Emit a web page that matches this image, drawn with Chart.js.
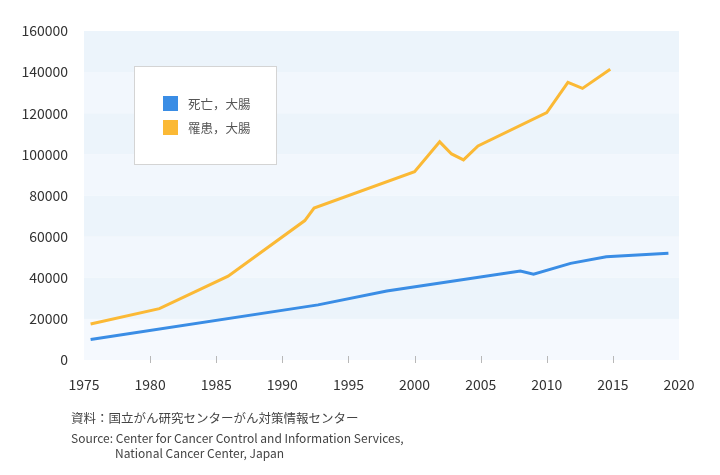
<!DOCTYPE html>
<html>
<head>
<meta charset="utf-8">
<script src="https://cdn.jsdelivr.net/npm/chart.js@4/dist/chart.umd.min.js"></script>
<style>
  body { margin: 0; background: #fff; }
  #wrap { position: relative; width: 720px; height: 475px; }
  .src { position: absolute; font-family: "Noto Sans CJK JP", "Noto Sans", sans-serif; color: #444; font-size: 12px; white-space: nowrap; }
</style>
</head>
<body>
<div id="wrap">
  <canvas id="chart" width="720" height="475"></canvas>
  <div class="src" style="left:71px; top:408px; font-size:12.5px;">資料：国立がん研究センターがん対策情報センター</div>
  <div class="src" style="left:71px; top:429px;">Source: Center for Cancer Control and Information Services,</div>
  <div class="src" style="left:115px; top:444px;">National Cancer Center, Japan</div>
</div>
<script>
// values
const seriesLabels = ['死亡，大腸', '罹患，大腸'];
const seriesColors = ['#3a8de5', '#fbb935'];

const deathYears = [1975.5, 1992.7, 1997.9, 2008.0, 2009.0, 2011.8, 2014.5, 2019.2];
const deathValues = [10000, 26800, 33600, 43300, 41700, 47000, 50200, 51900];

const incidenceYears = [1975.5, 1980.7, 1985.9, 1991.7, 1992.4, 2000.0, 2001.9, 2002.8, 2003.7, 2004.8, 2010.0, 2011.6, 2012.7, 2014.8];
const incidenceValues = [17500, 25000, 40800, 67800, 73900, 91600, 106100, 100200, 97300, 104100, 120300, 135000, 132100, 141400];

const xTicks = [1975, 1980, 1985, 1990, 1995, 2000, 2005, 2010, 2015, 2020];
const yTicks = [0, 20000, 40000, 60000, 80000, 100000, 120000, 140000, 160000];

function toPoints(xs, ys) {
  return xs.map(function (x, i) { return { x: x, y: ys[i] }; });
}

const bandPlugin = {
  id: 'bands',
  beforeDraw: function (chart) {
    const ctx = chart.ctx;
    const area = chart.chartArea;
    const y = chart.scales.y;
    ctx.save();
    for (let i = 0; i < yTicks.length - 1; i++) {
      const top = y.getPixelForValue(yTicks[i + 1]);
      const bottom = y.getPixelForValue(yTicks[i]);
      ctx.fillStyle = i === 0 ? '#f5f9fe' : (i % 2 === 1 ? '#ecf4fb' : '#f2f7fd');
      ctx.fillRect(area.left, top, area.right - area.left, bottom - top);
    }
    // short tick marks on the bottom edge
    const x = chart.scales.x;
    ctx.strokeStyle = '#b8b8b8';
    ctx.lineWidth = 1;
    for (let i = 1; i < xTicks.length - 1; i++) {
      const px = Math.round(x.getPixelForValue(xTicks[i])) + 0.5;
      ctx.beginPath();
      ctx.moveTo(px, area.bottom - 4);
      ctx.lineTo(px, area.bottom + 3);
      ctx.stroke();
    }
    ctx.restore();
  }
};

const legendPlugin = {
  id: 'boxLegend',
  afterDraw: function (chart) {
    const ctx = chart.ctx;
    ctx.save();
    ctx.fillStyle = '#ffffff';
    ctx.fillRect(134, 66, 142, 99);
    ctx.strokeStyle = '#d4d4d4';
    ctx.lineWidth = 1;
    ctx.strokeRect(134.5, 66.5, 142, 98);
    ctx.font = '12.5px "Noto Sans CJK JP"';
    ctx.textBaseline = 'middle';
    chart.data.datasets.forEach(function (ds, i) {
      const top = 96 + i * 24;
      ctx.fillStyle = ds.borderColor;
      ctx.fillRect(163, top, 15, 15);
      ctx.fillStyle = '#555';
      ctx.fillText(ds.label, 188, top + 8);
    });
    ctx.restore();
  }
};

new Chart(document.getElementById('chart').getContext('2d'), {
  type: 'line',
  data: {
    datasets: [
      {
        label: seriesLabels[0],
        data: toPoints(deathYears, deathValues),
        borderColor: seriesColors[0],
        borderWidth: 3,
        pointRadius: 0,
        tension: 0
      },
      {
        label: seriesLabels[1],
        data: toPoints(incidenceYears, incidenceValues),
        borderColor: seriesColors[1],
        borderWidth: 3,
        pointRadius: 0,
        tension: 0
      }
    ]
  },
  options: {
    responsive: false,
    animation: false,
    layout: { padding: { top: 31, right: 41, bottom: 75, left: 0 } },
    plugins: {
      legend: { display: false },
      tooltip: { enabled: false }
    },
    scales: {
      x: {
        type: 'linear',
        min: 1975,
        max: 2020,
        afterBuildTicks: function (scale) {
          scale.ticks = xTicks.map(function (v) { return { value: v }; });
        },
        afterFit: function (scale) { scale.height = 40; },
        grid: { display: false },
        border: { display: false },
        ticks: {
          padding: 8,
          color: '#333',
          font: { family: '"Noto Sans CJK JP"', size: 14 },
          callback: function (v) { return String(v); },
          maxRotation: 0
        }
      },
      y: {
        min: 0,
        max: 160000,
        afterBuildTicks: function (scale) {
          scale.ticks = yTicks.map(function (v) { return { value: v }; });
        },
        afterFit: function (scale) { scale.width = 84; },
        grid: { display: false },
        border: { display: false },
        ticks: {
          padding: 8,
          color: '#333',
          font: { family: '"Noto Sans CJK JP"', size: 14 },
          callback: function (v) { return String(v); }
        }
      }
    }
  },
  plugins: [bandPlugin, legendPlugin]
});
</script>
</body>
</html>
